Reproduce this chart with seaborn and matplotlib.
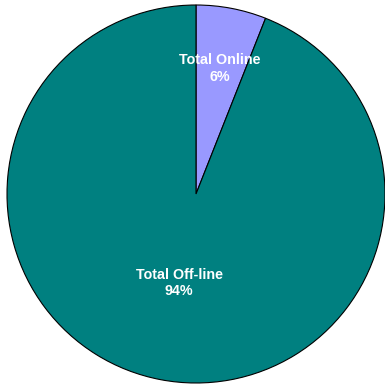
import matplotlib
matplotlib.use("Agg")
import matplotlib.pyplot as plt
import seaborn as sns
import numpy as np

categories = ["Total Online", "Total Off-line"]
values = [6, 94]
colors = ["#9999FF", "#008080"]

sns.set_theme(style="white")
plt.rcParams['font.family'] = ['Liberation Sans', 'DejaVu Sans']

fig = plt.figure(figsize=(3.85, 3.84), dpi=100)
ax = fig.add_axes([0, 0, 1, 1])
wedges, _ = ax.pie(values, colors=colors, startangle=90, counterclock=False,
                   radius=1.0, center=(0, 0),
                   wedgeprops=dict(edgecolor="black", linewidth=0.8))

# label positions (fraction of radius) along each wedge's mid-angle
label_dist = [0.675, 0.48]
for w, cat, v, d in zip(wedges, categories, values, label_dist):
    ang = np.deg2rad((w.theta1 + w.theta2) / 2)
    ax.text(d * np.cos(ang), d * np.sin(ang), f"{cat}\n{v}%", ha="center", va="center",
            color="white", fontweight="bold", fontsize=10.3, linespacing=1.25)

ax.set_xlim(-196 / 189, 189 / 189)
ax.set_ylim(-190 / 189, 194 / 189)
ax.set_aspect("equal")
ax.axis("off")
fig.savefig("out.png", dpi=100, facecolor="white")
